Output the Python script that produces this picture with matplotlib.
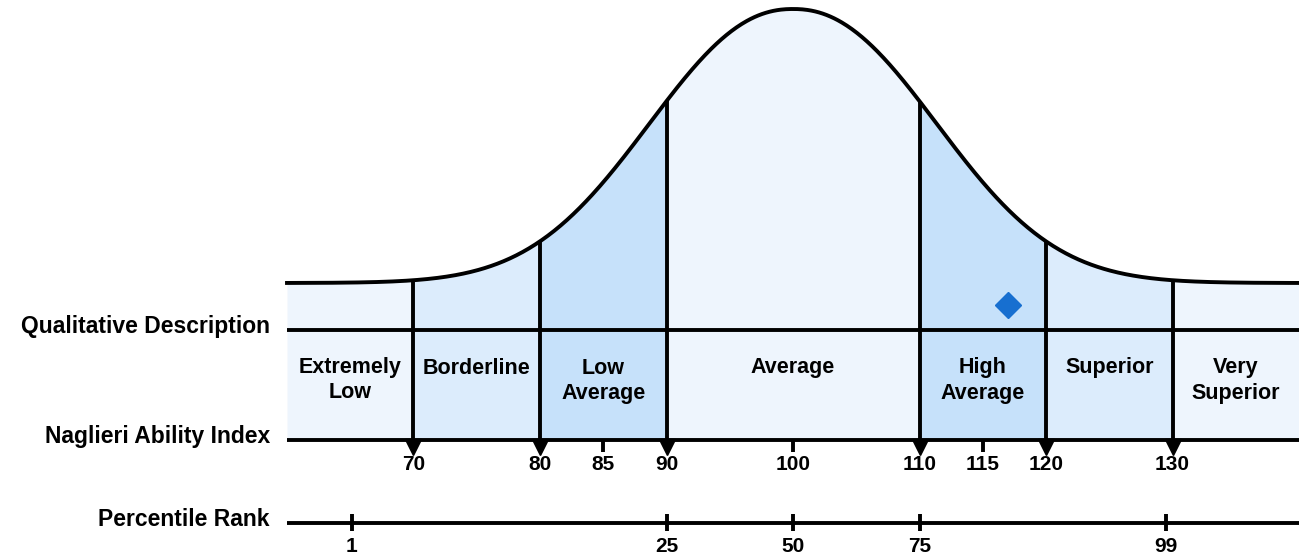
import numpy as np
import matplotlib
matplotlib.use('Agg')
import matplotlib.pyplot as plt

plt.rcParams['font.family'] = ['Liberation Sans', 'DejaVu Sans']
plt.rcParams['font.weight'] = 'bold'

# band edges on the ability index scale and their descriptions
band_edges = [60, 70, 80, 90, 110, 120, 130, 140]
band_labels = ['Extremely\nLow', 'Borderline', 'Low\nAverage', 'Average',
               'High\nAverage', 'Superior', 'Very\nSuperior']
band_colors = ['#eef5fd', '#dcecfc', '#c6e1fa', '#eef5fd',
               '#c6e1fa', '#dcecfc', '#eef5fd']

# index ticks
major_ticks = [70, 80, 90, 110, 120, 130]
minor_ticks = [85, 100, 115]

# percentile rank ticks (label, position on index scale)
pct_labels = ['1', '25', '50', '75', '99']
pct_pos = [65.1, 90, 100, 110, 129.5]

# the student's score
score = 117

# layout (pixel rows)
y_base = 283      # tail of the curve
y_peak = 9
y_qual = 330
y_nai = 440
y_pct = 523

fig = plt.figure(figsize=(12.99, 5.53), dpi=100)
ax = fig.add_axes([0, 0, 1, 1])
px = 12.65  # pixels per index point
ax.set_xlim(100 - 793 / px, 100 + 506 / px)
ax.set_ylim(553, 0)
ax.axis('off')

# bell shape, a bit flatter on top than a plain gaussian
def curve(s):
    d = np.abs(np.asarray(s, dtype=float) - 100)
    return y_base - (y_base - y_peak) * np.exp(-(d / 15.0) ** 2.2)

lw = 2.8
# bands
for i in range(len(band_labels)):
    a, b = band_edges[i], band_edges[i + 1]
    xs = np.linspace(a, b, 200)
    ax.fill_between(xs, curve(xs), y_nai, color=band_colors[i], lw=0, zorder=1)
    lines = band_labels[i].split('\n')
    for j, t in enumerate(lines):
        ax.text((a + b) / 2, 368 + j * 25, t, ha='center', va='center',
                fontsize=15.5, fontweight='bold', zorder=5)

# curve
xs = np.linspace(band_edges[0], band_edges[-1], 800)
ax.plot(xs, curve(xs), color='black', lw=lw, zorder=4)

# dividers
for t in major_ticks:
    ax.plot([t, t], [curve(t), y_nai], color='black', lw=lw, zorder=4,
            solid_capstyle='butt')

# horizontal lines
for y in [y_qual, y_nai, y_pct]:
    ax.plot([band_edges[0], band_edges[-1]], [y, y], color='black', lw=lw,
            zorder=4, solid_capstyle='butt')

# index ticks and labels
ax.plot(major_ticks, [y_nai + 7] * len(major_ticks), linestyle='none',
        marker='v', markersize=11, color='black', zorder=5)
for t in minor_ticks:
    ax.plot([t, t], [y_nai, y_nai + 12], color='black', lw=lw, zorder=4,
            solid_capstyle='butt')
for t in sorted(major_ticks + minor_ticks):
    ax.text(t, 465, str(t), ha='center', va='center', fontsize=15,
            fontweight='bold')

# percentile ticks
for lab, p in zip(pct_labels, pct_pos):
    ax.plot([p, p], [y_pct - 9, y_pct + 8], color='black', lw=lw, zorder=4,
            solid_capstyle='butt')
    ax.text(p, 546, lab, ha='center', va='center', fontsize=15,
            fontweight='bold')

# score marker
ax.plot([score], [305], marker='D', markersize=13, color='#176fd0',
        linestyle='none', zorder=6)

# row titles
xl = 100 - (793 - 270) / px
for y, t in [(326, 'Qualitative Description'), (436, 'Naglieri Ability Index'),
             (520, 'Percentile Rank')]:
    ax.text(xl, y, t, ha='right', va='center', fontsize=16.5, fontweight='bold')

fig.savefig('out.png', dpi=100)
